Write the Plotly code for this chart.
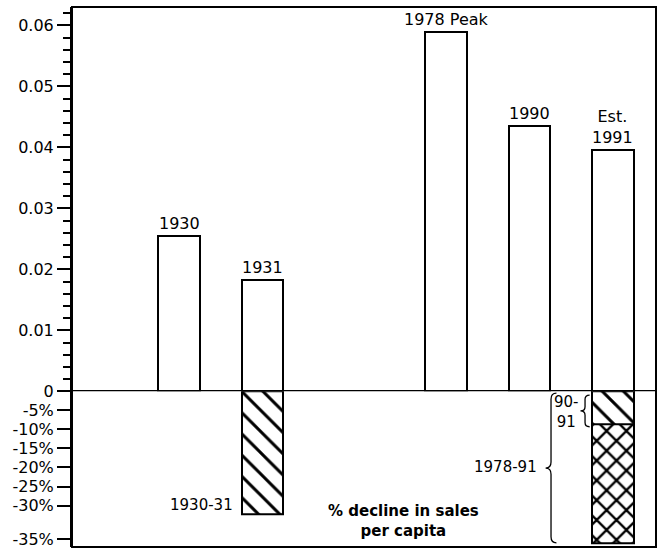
import plotly.graph_objects as go

# ---------------- data ----------------
BAR_LABELS = ["1930", "1931", "1978 Peak", "1990", "Est.<br>1991"]
BAR_X = [1.0, 2.0, 4.2, 5.2, 6.2]
SALES_PER_CAPITA = [0.0255, 0.0182, 0.0589, 0.0435, 0.0395]

DECLINE_LABELS = ["1930-31", "90-<br>91", "1978-91"]
DECLINE_X = [2.0, 6.2, 6.2]
DECLINE_PCT = [-32.3, -8.6, -39.8]

TOP_TICK_VALS = [0, 0.01, 0.02, 0.03, 0.04, 0.05, 0.06]
TOP_TICK_TEXT = ["0", "0.01", "0.02", "0.03", "0.04", "0.05", "0.06"]
NEG_TICK_VALS = [-5, -10, -15, -20, -25, -30, -38.9]
NEG_TICK_TEXT = ["-5%", "-10%", "-15%", "-20%", "-25%", "-30%", "-35%"]

NOTE_TEXT = "% decline in sales<br>per capita"

# ---------------- figure ----------------
FONT = "DejaVu Sans"
BLACK = "black"
SPLIT = 0.2883
BAR_W = 0.5

fig = go.Figure()

fig.add_trace(go.Bar(
    x=BAR_X, y=SALES_PER_CAPITA, width=BAR_W, yaxis="y", xaxis="x",
    marker=dict(color="white", line=dict(color=BLACK, width=2)),
    showlegend=False, hoverinfo="skip"))

# total 1978-91 decline (cross-hatched)
fig.add_trace(go.Bar(
    x=[DECLINE_X[2]], y=[DECLINE_PCT[2]], width=BAR_W, yaxis="y2", xaxis="x",
    marker=dict(color="white", line=dict(color=BLACK, width=2),
                pattern=dict(shape="x", fgcolor=BLACK, bgcolor="white",
                             size=14, solidity=0.3)),
    showlegend=False, hoverinfo="skip"))

# 1930-31 and 1990-91 declines (diagonal hatch)
fig.add_trace(go.Bar(
    x=DECLINE_X[:2], y=DECLINE_PCT[:2], width=BAR_W, yaxis="y2", xaxis="x",
    marker=dict(color="white", line=dict(color=BLACK, width=2),
                pattern=dict(shape="\\", fgcolor=BLACK, bgcolor="white",
                             size=15, solidity=0.2)),
    showlegend=False, hoverinfo="skip"))

annotations = []
for lbl, x, v in zip(BAR_LABELS, BAR_X, SALES_PER_CAPITA):
    annotations.append(dict(x=x, y=v, xref="x", yref="y", text=lbl,
                            showarrow=False, yanchor="bottom", yshift=1,
                            font=dict(family=FONT, size=16, color=BLACK)))

# decline labels
annotations.append(dict(x=DECLINE_X[0] - 0.33, y=DECLINE_PCT[0] + 2.5,
                        xref="x", yref="y2", text=DECLINE_LABELS[0],
                        showarrow=False, xanchor="right", yanchor="middle",
                        font=dict(family=FONT, size=15, color=BLACK)))
annotations.append(dict(x=DECLINE_X[1] - 0.56, y=DECLINE_PCT[1] * 0.62,
                        xref="x", yref="y2", text=DECLINE_LABELS[1],
                        showarrow=False, xanchor="center", yanchor="middle",
                        align="center",
                        font=dict(family=FONT, size=15, color=BLACK)))
annotations.append(dict(x=DECLINE_X[2] - 0.89, y=DECLINE_PCT[2] / 2,
                        xref="x", yref="y2", text=DECLINE_LABELS[2],
                        showarrow=False, xanchor="right", yanchor="middle",
                        font=dict(family=FONT, size=15, color=BLACK)))
annotations.append(dict(x=3.684, y=-34.0, xref="x", yref="y2", text=NOTE_TEXT,
                        showarrow=False, xanchor="center", yanchor="middle",
                        align="center",
                        font=dict(family=FONT, size=15, color=BLACK,
                                  weight="bold")))


def brace(xs, yt, yb, w, h):
    ym = (yt + yb) / 2.0
    return (f"M {xs + w},{yt} Q {xs},{yt} {xs},{yt - h} "
            f"L {xs},{ym + h} Q {xs},{ym} {xs - w},{ym} "
            f"Q {xs},{ym} {xs},{ym - h} "
            f"L {xs},{yb + h} Q {xs},{yb} {xs + w},{yb}")


shapes = [
    dict(type="rect", xref="paper", yref="paper", x0=0, x1=1, y0=0, y1=1,
         line=dict(color=BLACK, width=2)),
    dict(type="line", xref="paper", yref="y", x0=0, x1=1, y0=0, y1=0,
         line=dict(color=BLACK, width=2.5)),
    dict(type="path", xref="x", yref="y2",
         path=brace(DECLINE_X[2] - 0.741, -0.5, DECLINE_PCT[2], 0.065, 1.6),
         line=dict(color=BLACK, width=1.3)),
    dict(type="path", xref="x", yref="y2",
         path=brace(DECLINE_X[1] - 0.333, -1.0, DECLINE_PCT[1] - 0.7, 0.055, 1.1),
         line=dict(color=BLACK, width=1.3)),
]

axis_common = dict(showgrid=False, zeroline=False, showline=True,
                   linecolor=BLACK, linewidth=2, ticks="outside",
                   ticklen=13, tickwidth=2, tickcolor=BLACK, automargin=False,
                   ticklabeloverflow="allow",
                   tickfont=dict(family=FONT, size=16, color=BLACK))

fig.update_layout(
    template="none",
    width=662, height=550,
    margin=dict(l=72, r=6, t=7, b=3, pad=0, autoexpand=False),
    paper_bgcolor="white", plot_bgcolor="white",
    barmode="overlay", bargap=0,
    font=dict(family=FONT, size=16, color=BLACK),
    xaxis=dict(range=[-0.286, 6.718], showticklabels=False, ticks="",
               showgrid=False, zeroline=False, showline=False,
               automargin=False, anchor="y2", domain=[0, 1]),
    yaxis=dict(domain=[SPLIT, 1], range=[0, 0.0630], anchor="x",
               tickmode="array", tickvals=TOP_TICK_VALS, ticktext=TOP_TICK_TEXT,
               minor=dict(tickmode="linear", tick0=0, dtick=0.002,
                          ticks="outside", ticklen=7, tickwidth=1.5,
                          tickcolor=BLACK, showgrid=False),
               **axis_common),
    yaxis2=dict(domain=[0, SPLIT], range=[-40.87, 0], anchor="x",
                tickmode="array", tickvals=NEG_TICK_VALS, ticktext=NEG_TICK_TEXT,
                **axis_common),
    annotations=annotations,
    shapes=shapes,
)

fig.write_html("out.html",
               config={"displayModeBar": False},
               post_script="document.body.style.margin='0';"
                           "document.body.style.overflow='hidden';")
